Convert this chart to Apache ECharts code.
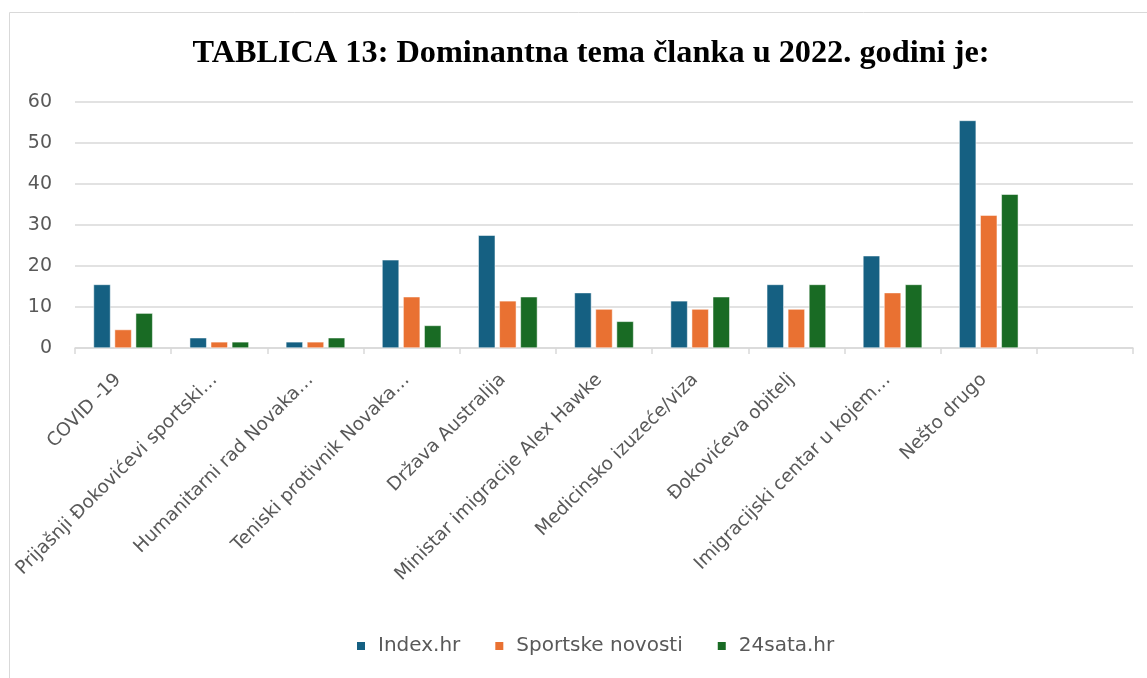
<!DOCTYPE html>
<html>
<head>
<meta charset="utf-8">
<script src="https://cdn.jsdelivr.net/npm/echarts@6/dist/echarts.min.js"></script>
<style>
html,body{margin:0;padding:0;background:#fff;}
#chart{width:1147px;height:678px;}
</style>
</head>
<body>
<div id="chart"></div>
<script>
const titleText = 'TABLICA 13: Dominantna tema članka u 2022. godini je:';
const categories = [
  'COVID -19',
  'Prijašnji Đokovićevi sportski…',
  'Humanitarni rad Novaka…',
  'Teniski protivnik Novaka…',
  'Država Australija',
  'Ministar imigracije Alex Hawke',
  'Medicinsko izuzeće/viza',
  'Đokovićeva obitelj',
  'Imigracijski centar u kojem…',
  'Nešto drugo',
  ''
];
const seriesNames = ['Index.hr', 'Sportske novosti', '24sata.hr'];
const indexHr = [15.5, 2.5, 1.5, 21.5, 27.5, 13.5, 11.5, 15.5, 22.5, 55.5, null];
const sportskeNovosti = [4.5, 1.5, 1.5, 12.5, 11.5, 9.5, 9.5, 9.5, 13.5, 32.4, null];
const sata24 = [8.5, 1.5, 2.5, 5.5, 12.5, 6.5, 12.5, 15.5, 15.5, 37.5, null];
const yTicks = { min: 0, max: 60, interval: 10 };
const colors = ['#156082', '#E97132', '#196B24'];

const chart = echarts.init(document.getElementById('chart'));
const labelColor = '#595959';
const font = 'DejaVu Sans, sans-serif';
const data = [indexHr, sportskeNovosti, sata24];

chart.setOption({
  animation: false,
  color: colors,
  graphic: [{
    type: 'rect',
    shape: { x: 9.5, y: 12.5, width: 1200, height: 700 },
    style: { fill: 'none', stroke: '#d9d9d9', lineWidth: 1 },
    silent: true
  }],
  title: {
    text: titleText,
    left: 586,
    textAlign: 'center',
    top: 33,
    textStyle: { fontFamily: 'Liberation Serif, Times New Roman, serif', fontWeight: 'bold', fontSize: 32.3, color: '#000' }
  },
  legend: {
    data: seriesNames,
    left: 350,
    top: 631,
    itemWidth: 10,
    itemHeight: 10,
    itemGap: 33,
    icon: 'rect',
    textStyle: { fontFamily: font, fontSize: 20, color: labelColor, padding: [0, 0, 0, 7] }
  },
  grid: { left: 75, right: 14, top: 102, bottom: 330, containLabel: false },
  xAxis: {
    type: 'category',
    data: categories,
    axisLine: { lineStyle: { color: '#d9d9d9', width: 1.5 } },
    axisTick: { show: true, length: 6, lineStyle: { color: '#d9d9d9', width: 1.5 } },
    axisLabel: {
      rotate: 45,
      interval: 0,
      margin: 24,
      padding: [14, 7, 0, 0],
      fontFamily: font,
      fontSize: 18.5,
      color: labelColor
    }
  },
  yAxis: {
    type: 'value',
    min: yTicks.min,
    max: yTicks.max,
    interval: yTicks.interval,
    axisLine: { show: false },
    axisTick: { show: false },
    splitLine: { lineStyle: { color: '#d9d9d9', width: 1.5 } },
    axisLabel: { fontFamily: font, fontSize: 19, color: labelColor, margin: 23 }
  },
  series: seriesNames.map((n, i) => ({
    name: n,
    type: 'bar',
    data: data[i],
    barWidth: 17,
    barGap: '24%',
    itemStyle: { color: colors[i], borderColor: '#ffffff', borderWidth: 0.5 }
  }))
});
</script>
</body>
</html>
